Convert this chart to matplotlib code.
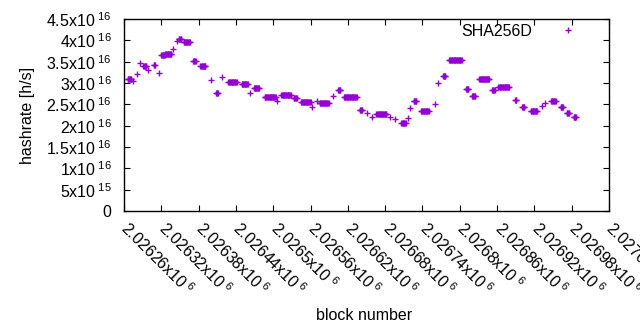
import numpy as np
import matplotlib
matplotlib.use("Agg")
from matplotlib import pyplot as plt
from matplotlib.ticker import FixedLocator, FuncFormatter
from matplotlib.transforms import blended_transform_factory, ScaledTranslation

plt.rcParams['font.family'] = ['Liberation Sans', 'DejaVu Sans']
plt.rcParams['mathtext.fontset'] = 'custom'
plt.rcParams['mathtext.rm'] = 'Liberation Sans'
plt.rcParams['mathtext.it'] = 'Liberation Sans'

# runs of blocks with the same hashrate: first block, last block, rate (x1e16 h/s)
block0 = 2026260
run_first = [6, 14, 21, 26, 31, 39, 48, 56, 60, 66, 79, 85, 88, 96, 111, 123, 140,
             148, 158, 168, 189, 203, 209, 226, 246, 253, 273, 285, 302, 310, 315,
             336, 344, 354, 379, 391, 399, 406, 428, 436, 446, 457, 460, 466, 478,
             500, 505, 513, 523, 550, 560, 571, 592, 602, 629, 640, 654, 672, 677,
             687, 702, 712, 723]
run_last = [12, 14, 21, 26, 36, 39, 50, 56, 66, 76, 79, 85, 92, 106, 115, 131, 140,
            151, 158, 181, 199, 203, 217, 244, 246, 268, 278, 300, 302, 310, 329,
            336, 348, 374, 383, 391, 399, 422, 428, 436, 453, 457, 460, 470, 490,
            500, 505, 517, 543, 554, 565, 587, 596, 619, 631, 644, 664, 672, 677,
            694, 706, 716, 727]
run_rate = [3.09, 3.05, 3.21, 3.48, 3.40, 3.31, 3.42, 3.24, 3.66, 3.69, 3.79, 3.99,
            4.03, 3.95, 3.52, 3.41, 3.07, 2.76, 3.14, 3.03, 2.97, 2.77, 2.89, 2.68,
            2.58, 2.73, 2.64, 2.56, 2.43, 2.58, 2.52, 2.70, 2.84, 2.67, 2.37, 2.29,
            2.20, 2.27, 2.21, 2.15, 2.07, 2.17, 2.41, 2.58, 2.34, 2.50, 2.99, 3.16,
            3.53, 2.86, 2.70, 3.09, 2.84, 2.90, 2.60, 2.43, 2.34, 2.46, 2.52, 2.58,
            2.43, 2.29, 2.20]

blocks = []
rates = []
for a, b, r in zip(run_first, run_last, run_rate):
    for k in range(a, b + 1):
        blocks.append(block0 + k)
        rates.append(r * 1e16)

fig = plt.figure(figsize=(6.4, 3.3), dpi=100)
ax = fig.add_axes([124 / 640, 1 - 211 / 330, 485 / 640, 192 / 330])

ax.plot(blocks, rates, '+', color='#9400d3', markersize=4.8, markeredgewidth=1.0,
        label='SHA256D')

ax.set_xlim(2026260, 2027040)
ax.set_ylim(0, 4.5e16)

xt = np.arange(2026260, 2027041, 60)
ax.xaxis.set_major_locator(FixedLocator(xt))
ax.set_xticklabels([])
yt = np.arange(0, 4.51e16, 5e15)
ax.yaxis.set_major_locator(FixedLocator(yt))


def yfmt(v, p):
    if v == 0:
        return '0'
    e = int(np.floor(np.log10(v) + 1e-9))
    return '%gx10$^{\\ %d}$' % (v / 10 ** e, e)


ax.yaxis.set_major_formatter(FuncFormatter(yfmt))

ax.tick_params(direction='in', length=4, width=0.8, top=True, right=True,
               labelsize=11.5, colors='black')
ax.tick_params(axis='y', pad=9)
for s in ax.spines.values():
    s.set_linewidth(1.0)

# rotated x tick labels, gnuplot style
xtrans = blended_transform_factory(ax.transData, ax.transAxes) + \
    ScaledTranslation(7 / 100, -7 / 100, fig.dpi_scale_trans)
for v in xt:
    ax.text(v, 0, '%gx10$^{\\ 6}$' % (v / 1e6), transform=xtrans, fontsize=11.5,
            rotation=-45, rotation_mode='anchor', ha='left', va='top', clip_on=False)

ax.set_ylabel('hashrate [h/s]', fontsize=11.5, labelpad=8)
fig.text(364 / 640, 1 - 315 / 330, 'block number', fontsize=11.5, ha='center', va='center')

ax.legend(loc='upper right', frameon=False, markerfirst=False, fontsize=11.5,
          handlelength=1.2, handletextpad=1.6, bbox_to_anchor=(0.964, 1.05))

fig.savefig('out.png', dpi=100)
